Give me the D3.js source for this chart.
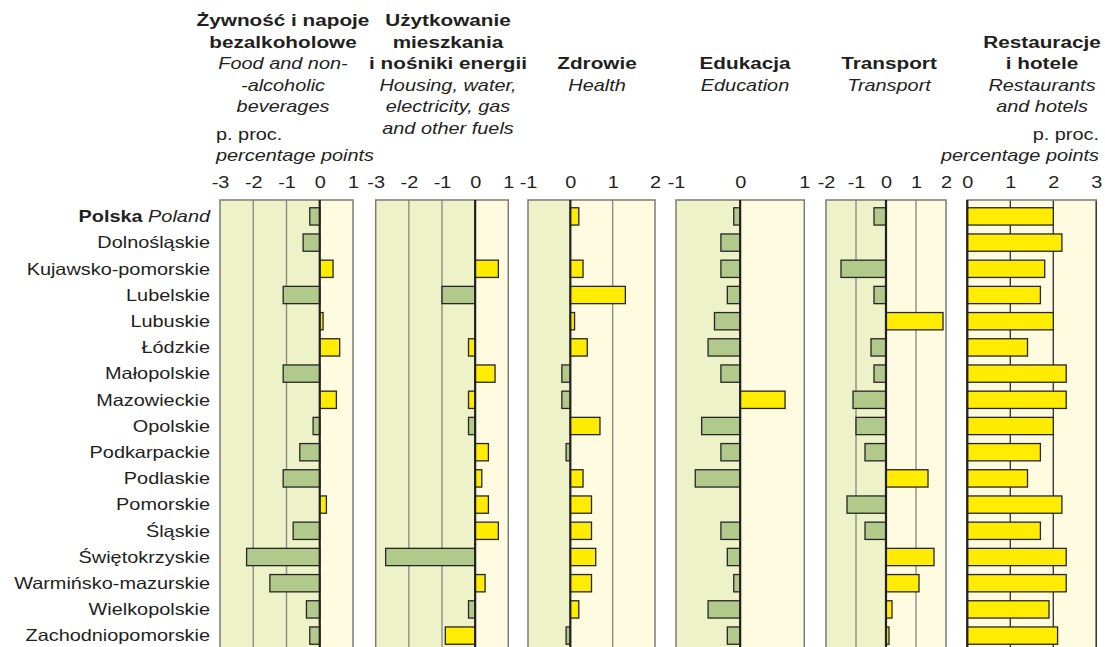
<!DOCTYPE html>
<html><head><meta charset="utf-8">
<script src="https://cdn.jsdelivr.net/npm/d3@7"></script>
<style>
html,body{margin:0;padding:0;background:#fff;}
svg{display:block;}
text{font-family:"Liberation Sans",Arial,Helvetica,sans-serif;fill:#231f20;}
</style></head>
<body>
<svg id="chart" width="1105" height="647"></svg>
<script>
// ---- data ----
const regions = ["Polska","Dolnośląskie","Kujawsko-pomorskie","Lubelskie","Lubuskie","Łódzkie","Małopolskie","Mazowieckie","Opolskie","Podkarpackie","Podlaskie","Pomorskie","Śląskie","Świętokrzyskie","Warmińsko-mazurskie","Wielkopolskie","Zachodniopomorskie"];
const food        = [-0.3,-0.5,0.4,-1.1,0.1,0.6,-1.1,0.5,-0.2,-0.6,-1.1,0.2,-0.8,-2.2,-1.5,-0.4,-0.3];
const housing     = [0,0,0.7,-1.0,0,-0.2,0.6,-0.2,-0.2,0.4,0.2,0.4,0.7,-2.7,0.3,-0.2,-0.9];
const health      = [0.2,0,0.3,1.3,0.1,0.4,-0.2,-0.2,0.7,-0.1,0.3,0.5,0.5,0.6,0.5,0.2,-0.1];
const education   = [-0.1,-0.3,-0.3,-0.2,-0.4,-0.5,-0.3,0.7,-0.6,-0.3,-0.7,0,-0.3,-0.2,-0.1,-0.5,-0.2];
const transport   = [-0.4,0,-1.5,-0.4,1.9,-0.5,-0.4,-1.1,-1.0,-0.7,1.4,-1.3,-0.7,1.6,1.1,0.2,0.1];
const restaurants = [2.0,2.2,1.8,1.7,2.0,1.4,2.3,2.3,2.0,1.7,1.4,2.2,1.7,2.3,2.3,1.9,2.1];
// bars drawn yellow although negative in the original (housing panel)
const housingYellowNegative = ["Łódzkie","Mazowieckie","Zachodniopomorskie"];

const ticksFood = [-3,-2,-1,0,1];
const ticksHousing = [-3,-2,-1,0,1];
const ticksHealth = [-1,0,1,2];
const ticksEducation = [-1,0,1];
const ticksTransport = [-2,-1,0,1,2];
const ticksRestaurants = [0,1,2,3];

const titleFood = [["Żywność i napoje","b"],["bezalkoholowe","b"],["Food and non-","i"],["-alcoholic","i"],["beverages","i"]];
const titleHousing = [["Użytkowanie","b"],["mieszkania","b"],["i nośniki energii","b"],["Housing, water,","i"],["electricity, gas","i"],["and other fuels","i"]];
const titleHealth = [["Zdrowie","b"],["Health","i"]];
const titleEducation = [["Edukacja","b"],["Education","i"]];
const titleTransport = [["Transport","b"],["Transport","i"]];
const titleRestaurants = [["Restauracje","b"],["i hotele","b"],["Restaurants","i"],["and hotels","i"]];

// ---- layout ----
const svg = d3.select("#chart");
const SX = 1.22;
const FS = 16.3;
const TOP = 200, BOTTOM = 650;
const y = d3.scaleBand().domain(regions).range([203.3, 648.7]).paddingInner(0.34).paddingOuter(0.17);

function txt(g, x, yy, s, o = {}) {
  return g.append("text")
    .attr("transform", `translate(${x},${yy}) scale(${SX},1)`)
    .attr("text-anchor", o.anchor || "middle")
    .style("font-size", (o.size || FS) + "px")
    .style("font-weight", o.bold ? "bold" : null)
    .style("font-style", o.italic ? "italic" : null)
    .text(s);
}

const C = {
  neg: "#eef2c9", pos: "#fefbe1", negBar: "#b2c98c", posBar: "#ffec00",
  grid: "#8d8d86", border: "#7c7c76", dark: "#231f20"
};

const panels = [
  {vals: food, domain: [-3,1], range: [220,353], ticks: ticksFood, grid: [-2,-1], title: titleFood, line0: 0, cx: 283},
  {vals: housing, domain: [-3,1], range: [375.7,508.3], ticks: ticksHousing, grid: [-2,-1], title: titleHousing, line0: 0, cx: 448, yellowNeg: housingYellowNegative},
  {vals: health, domain: [-1,2], range: [528,655], ticks: ticksHealth, grid: [1], title: titleHealth, line0: 2, cx: 597},
  {vals: education, domain: [-1,1], range: [676,804.3], ticks: ticksEducation, grid: [], title: titleEducation, line0: 2, cx: 745},
  {vals: transport, domain: [-2,2], range: [826,946], ticks: ticksTransport, grid: [-1,1], title: titleTransport, line0: 2, cx: 889},
  {vals: restaurants, domain: [0,3], range: [967.3,1096.3], ticks: ticksRestaurants, grid: [1,2], title: titleRestaurants, line0: 1, cx: 1042, darkGrid: true}
];

const lineY = k => 26 + 21.6 * k;

panels.forEach(p => {
  const x = d3.scaleLinear().domain(p.domain).range(p.range);
  const g = svg.append("g");
  const z = x(0);
  // backgrounds
  if (p.domain[0] < 0)
    g.append("rect").attr("x", p.range[0]).attr("y", TOP).attr("width", z - p.range[0]).attr("height", BOTTOM - TOP).attr("fill", C.neg);
  g.append("rect").attr("x", z).attr("y", TOP).attr("width", p.range[1] - z).attr("height", BOTTOM - TOP).attr("fill", C.pos);
  // gridlines
  g.selectAll("line.grid").data(p.grid).join("line")
    .attr("x1", d => x(d)).attr("x2", d => x(d)).attr("y1", TOP).attr("y2", BOTTOM)
    .attr("stroke", p.darkGrid ? "#3c3c3a" : C.grid).attr("stroke-width", 1.4);
  // bars
  const data = regions.map((r, i) => ({r, v: p.vals[i]})).filter(d => d.v !== 0);
  g.selectAll("rect.bar").data(data).join("rect")
    .attr("x", d => x(Math.min(0, d.v))).attr("y", d => y(d.r))
    .attr("width", d => Math.abs(x(d.v) - z)).attr("height", y.bandwidth())
    .attr("fill", d => (d.v > 0 || (p.yellowNeg && p.yellowNeg.includes(d.r))) ? C.posBar : C.negBar)
    .attr("stroke", "#262626").attr("stroke-width", 1.3);
  // border
  g.append("rect").attr("x", p.range[0]).attr("y", TOP).attr("width", p.range[1] - p.range[0]).attr("height", BOTTOM - TOP)
    .attr("fill", "none").attr("stroke", C.border).attr("stroke-width", 1.5);
  if (p.darkGrid)
    g.append("line").attr("x1", p.range[1]).attr("x2", p.range[1]).attr("y1", TOP + 1).attr("y2", BOTTOM).attr("stroke", "#3c3c3a").attr("stroke-width", 1.4);
  // zero line
  g.append("line").attr("x1", z).attr("x2", z).attr("y1", TOP).attr("y2", BOTTOM).attr("stroke", C.dark).attr("stroke-width", 2.2);
  // tick labels via axis
  const ax = svg.append("g").attr("transform", "translate(0,188)")
    .call(d3.axisTop(x).tickValues(p.ticks).tickSize(0).tickPadding(0).tickFormat(d => String(d).replace("−", "-")));
  ax.select(".domain").remove();
  ax.selectAll("text").attr("y", 0).attr("dy", 0)
    .attr("transform", `scale(${SX},1)`)
    .style("font-family", "Liberation Sans, Arial, sans-serif").style("font-size", FS + "px").attr("fill", C.dark);
  // titles
  p.title.forEach((t, k) => {
    txt(svg, p.cx, lineY(p.line0 + k), t[0], {bold: t[1] === "b", italic: t[1] === "i", size: t[1] === "b" ? 17 : FS});
  });
});

// unit labels
txt(svg, 216, 140, "p. proc.", {anchor: "start"});
txt(svg, 216, 161, "percentage points", {anchor: "start", italic: true});
txt(svg, 1099, 140, "p. proc.", {anchor: "end"});
txt(svg, 1099, 161, "percentage points", {anchor: "end", italic: true});

// row labels
regions.forEach((r, i) => {
  const yy = y(r) + y.bandwidth() / 2 + 5.8;
  if (i === 0) {
    const t = svg.append("text").attr("transform", `translate(210,${yy}) scale(${SX},1)`).attr("text-anchor", "end").style("font-size", FS + "px");
    t.append("tspan").style("font-weight", "bold").text("Polska ");
    t.append("tspan").style("font-style", "italic").text("Poland");
  } else {
    txt(svg, 210, yy, r, {anchor: "end"});
  }
});
</script>
</body></html>
